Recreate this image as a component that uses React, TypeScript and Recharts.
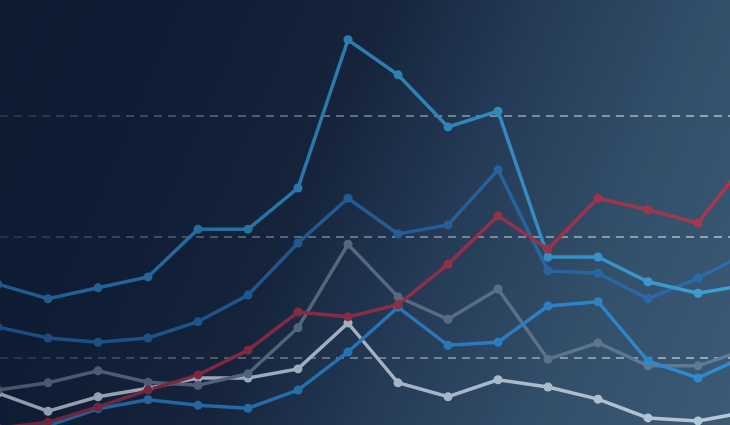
import React from 'react';
import { LineChart, Line, XAxis, YAxis, ReferenceLine } from 'recharts';

// sixteen evenly spaced steps, the first and last run off the edges
const steps = [0, 1, 2, 3, 4, 5, 6, 7, 8, 9, 10, 11, 12, 13, 14, 15];
const gridTicks = [20, 40, 60];

const peakSeries = [32.2, 29.8, 31.6, 33.4, 41.3, 41.3, 48.1, 72.6, 66.8, 58.2, 60.8, 36.7, 36.7, 32.6, 30.7, 32.1];
const deepSeries = [25.1, 23.3, 22.6, 23.3, 26.0, 30.4, 39.0, 46.4, 40.5, 42.0, 51.1, 34.4, 34.0, 29.8, 33.2, 37.4];
const redSeries = [8.4, 9.4, 11.9, 14.7, 17.2, 21.3, 27.6, 26.8, 28.8, 35.5, 43.5, 38.0, 46.4, 44.5, 42.3, 52.9];
const brightSeries = [8.4, 8.8, 11.6, 13.1, 12.2, 11.7, 14.7, 21.0, 28.4, 22.1, 22.6, 28.6, 29.3, 19.5, 16.7, 20.5];
const greySeries = [14.7, 15.9, 17.9, 16.0, 15.5, 17.4, 25.0, 38.8, 30.1, 26.4, 31.4, 19.8, 22.5, 18.7, 18.7, 21.5];
const paleSeries = [14.2, 11.2, 13.6, 15.0, 16.7, 16.7, 18.2, 25.8, 15.9, 13.6, 16.4, 15.2, 13.2, 10.1, 9.6, 11.1];

const data = steps.map((step, i) => ({
  step,
  peak: peakSeries[i],
  deep: deepSeries[i],
  red: redSeries[i],
  bright: brightSeries[i],
  grey: greySeries[i],
  pale: paleSeries[i],
}));

const lines = [
  { key: 'pale', id: 'gPale', from: '#8f99aa', to: '#b6c8da' },
  { key: 'grey', id: 'gGrey', from: '#46566c', to: '#627b94' },
  { key: 'bright', id: 'gBright', from: '#1d5a94', to: '#318cd2' },
  { key: 'deep', id: 'gDeep', from: '#1a4a80', to: '#2b6cab' },
  { key: 'peak', id: 'gPeak', from: '#1d5a8a', to: '#3ca0d5' },
  { key: 'red', id: 'gRed', from: '#6a2238', to: '#a8384f' },
];

export default function App() {
  return (
    <div
      style={{
        position: 'absolute',
        left: 0,
        top: 0,
        width: 730,
        height: 425,
        overflow: 'hidden',
        background:
          'linear-gradient(113deg, #0d1a30 0%, #0f1d35 25%, #15233b 42%, #253b57 60%, #33506b 80%, #3b5a75 100%)',
      }}
    >
      <div style={{ filter: 'blur(0.7px)' }}>
        <LineChart width={730} height={425} data={data} margin={{ top: 0, right: 0, bottom: 0, left: 0 }}>
          <defs>
            <linearGradient id="gGrid" gradientUnits="userSpaceOnUse" x1="0" y1="0" x2="730" y2="0">
              <stop offset="0%" stopColor="#c8d6e4" stopOpacity={0.12} />
              <stop offset="45%" stopColor="#c8d6e4" stopOpacity={0.4} />
              <stop offset="100%" stopColor="#d2dee9" stopOpacity={0.6} />
            </linearGradient>
            {lines.map((l) => (
              <linearGradient key={l.id} id={l.id} gradientUnits="userSpaceOnUse" x1="0" y1="0" x2="730" y2="0">
                <stop offset="0%" stopColor={l.from} />
                <stop offset="100%" stopColor={l.to} />
              </linearGradient>
            ))}
          </defs>
          <XAxis type="number" dataKey="step" domain={[0.04, 14.64]} allowDataOverflow hide />
          <YAxis type="number" domain={[8.926, 79.174]} allowDataOverflow hide />
          {gridTicks.map((t) => (
            <ReferenceLine key={t} y={t} stroke="url(#gGrid)" strokeWidth={2} strokeDasharray="8 6" />
          ))}
          {lines.map((l) => (
            <Line
              key={l.key}
              type="linear"
              dataKey={l.key}
              stroke={`url(#${l.id})`}
              strokeWidth={3.5}
              dot={{ r: 4.5, fill: `url(#${l.id})`, stroke: 'none' }}
              activeDot={false}
              isAnimationActive={false}
            />
          ))}
        </LineChart>
      </div>
    </div>
  );
}
